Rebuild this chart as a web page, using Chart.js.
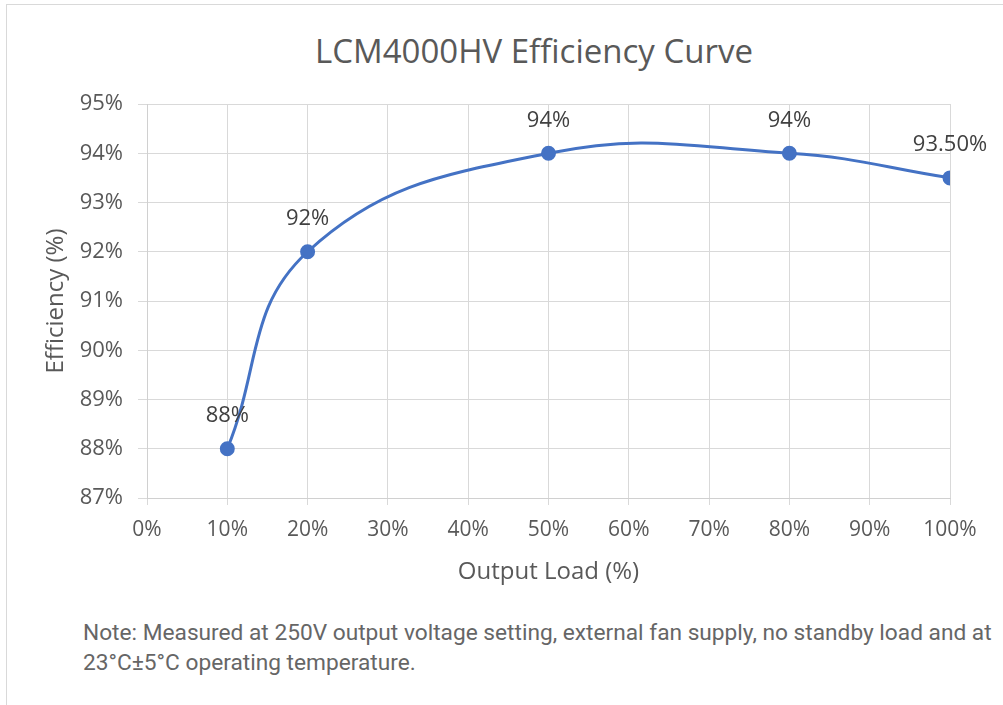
<!DOCTYPE html>
<html>
<head>
<meta charset="utf-8">
<script src="https://cdn.jsdelivr.net/npm/chart.js@4.4.0/dist/chart.umd.min.js"></script>
<style>
  html, body { margin: 0; padding: 0; background: #fff; overflow: hidden; }
  body { width: 1003px; height: 705px; position: relative; }
  #frame { position: absolute; left: 6px; top: 4px; width: 1100px; height: 800px; border: 1px solid #d9d9d9; box-sizing: border-box; }
  #title { position: absolute; left: 0; top: 31px; width: 1068px; text-align: center; font-family: "Open Sans", sans-serif; font-size: 33px; line-height: 40px; color: #595959; white-space: nowrap; }
  #wrap { position: absolute; left: 0; top: 0; width: 1003px; height: 600px; }
  #note { position: absolute; left: 83px; top: 618px; font-family: "Roboto", "Open Sans", sans-serif; font-size: 22.7px; line-height: 30px; color: #666; white-space: nowrap; }
</style>
</head>
<body>
<div id="frame"></div>
<div id="title">LCM4000HV Efficiency Curve</div>
<div id="wrap"><canvas id="effChart" width="1003" height="600"></canvas></div>
<div id="note">Note: Measured at 250V output voltage setting, external fan supply, no standby load and at<br>23°C±5°C operating temperature.</div>
<script>
const loadPct = [10, 20, 50, 80, 100];
const efficiency = [88, 92, 94, 94, 93.5];
const pointLabels = ['88%', '92%', '94%', '94%', '93.50%'];
const xTicks = [0, 100, 10];   // min, max, step
const yTicks = [87, 95, 1];

const FONT = '"Open Sans", "Noto Sans", sans-serif';
const TEXT = '#595959';

// draws the value above each point
const pointLabelPlugin = {
  id: 'pointLabels',
  afterDatasetsDraw(chart) {
    const ctx = chart.ctx;
    const meta = chart.getDatasetMeta(0);
    ctx.save();
    ctx.font = '22px ' + FONT;
    ctx.fillStyle = '#404040';
    ctx.textAlign = 'center';
    ctx.textBaseline = 'middle';
    meta.data.forEach((pt, i) => {
      ctx.fillText(pointLabels[i], pt.x, pt.y - 33);
    });
    ctx.restore();
  }
};

const ctx = document.getElementById('effChart').getContext('2d');
new Chart(ctx, {
  type: 'line',
  data: {
    datasets: [{
      data: loadPct.map((x, i) => ({ x: x, y: efficiency[i] })),
      borderColor: '#4472C4',
      backgroundColor: '#4472C4',
      pointBackgroundColor: '#4472C4',
      pointBorderColor: '#4472C4',
      borderWidth: 3,
      pointRadius: 6,
      tension: 0.42,
      fill: false
    }]
  },
  options: {
    responsive: false,
    animation: false,
    layout: { padding: { left: 0, right: 53, top: 104, bottom: 0 } },
    plugins: {
      legend: { display: false },
      tooltip: { enabled: false },
      title: { display: false }
    },
    scales: {
      x: {
        type: 'linear',
        min: xTicks[0],
        max: xTicks[1],
        afterFit(scale) { scale.height = 102; },
        ticks: {
          stepSize: xTicks[2],
          color: TEXT,
          font: { family: FONT, size: 21 },
          padding: 12,
          maxRotation: 0,
          callback: v => v + '%'
        },
        grid: { color: '#d9d9d9', tickLength: 7 },
        border: { color: '#d0d0d0' },
        title: {
          display: true,
          text: 'Output Load (%)',
          color: TEXT,
          font: { family: FONT, size: 24 },
          padding: { top: 0, bottom: 13.6 }
        }
      },
      y: {
        min: yTicks[0],
        max: yTicks[1],
        afterFit(scale) { scale.width = 147; },
        ticks: {
          stepSize: yTicks[2],
          color: TEXT,
          font: { family: FONT, size: 22 },
          padding: 15,
          callback: v => v + '%'
        },
        grid: { color: '#d9d9d9', tickLength: 9 },
        border: { color: '#d0d0d0' },
        title: {
          display: true,
          text: 'Efficiency (%)',
          color: TEXT,
          font: { family: FONT, size: 24 },
          padding: { top: 41.6, bottom: 0 }
        }
      }
    }
  },
  plugins: [pointLabelPlugin]
});
</script>
</body>
</html>
